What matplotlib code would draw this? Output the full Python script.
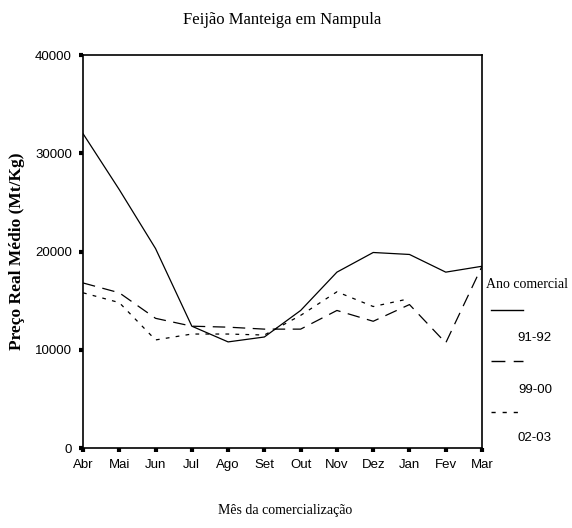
import matplotlib.pyplot as plt
from matplotlib.lines import Line2D
import numpy as np

months = ['Abr', 'Mai', 'Jun', 'Jul', 'Ago', 'Set', 'Out', 'Nov', 'Dez', 'Jan', 'Fev', 'Mar']
s9192 = [32000, 26300, 20300, 12400, 10800, 11300, 14000, 17900, 19900, 19700, 17900, 18500]
s9900 = [16800, 15800, 13200, 12400, 12300, 12100, 12100, 14000, 12900, 14600, 10700, 18500]
s0203 = [15800, 14800, 11000, 11600, 11600, 11500, 13500, 15900, 14400, 15200]
series_names = ['91-92', '99-00', '02-03']
y_ticks = [0, 10000, 20000, 30000, 40000]

SERIF = 'Liberation Serif'
SANS = 'Liberation Sans'

fig = plt.figure(figsize=(5.72, 5.28), dpi=100)
ax = fig.add_axes([0.1451, 0.1515, 0.6976, 0.7443])

x = np.arange(len(months))
styles = ['-', (0, (10, 6)), (0, (3, 5))]
all_series = [s9192, s9900, s0203]
for vals, ls in zip(all_series, styles):
    ax.plot(x[:len(vals)], vals, color='black', lw=0.9, linestyle=ls)

ax.set_xlim(0, 11)
ax.set_ylim(0, 40000)
ax.set_xticks(x)
ax.set_xticklabels(months, fontfamily=SANS, fontsize=9.5)
ax.set_yticks(y_ticks)
ax.set_yticklabels([str(v) for v in y_ticks], fontfamily=SANS, fontsize=9.5)
ax.tick_params(direction='out', length=3, width=3)
ax.tick_params(axis='x', pad=5)
ax.tick_params(axis='y', pad=5)
for sp in ax.spines.values():
    sp.set_linewidth(1.2)

fig.text(0.493, 0.962, 'Feijão Manteiga em Nampula', ha='center', va='center',
         fontfamily=SERIF, fontsize=12)
fig.text(0.498, 0.034, 'Mês da comercialização', ha='center', va='center',
         fontfamily=SERIF, fontsize=10)
fig.text(0.03, 1 - 251 / 528, 'Preço Real Médio (Mt/Kg)', rotation=90, ha='center', va='center',
         fontfamily=SERIF, fontsize=12.5, fontweight='bold')

# legend drawn by hand, SPSS style
W, H = 572, 528
fig.text(486 / W, 1 - 284 / H, 'Ano comercial', ha='left', va='center',
         fontfamily=SERIF, fontsize=10)
leg_line_y = [310, 361, 412]
leg_text_y = [338, 390, 438]
for name, ls, ly, ty in zip(series_names, styles, leg_line_y, leg_text_y):
    fig.add_artist(Line2D([491 / W, 523 / W], [1 - ly / H, 1 - ly / H],
                          transform=fig.transFigure, color='black', lw=1.0, linestyle=ls))
    fig.text(552 / W, 1 - ty / H, name, ha='right', va='center',
             fontfamily=SANS, fontsize=9.5)

fig.savefig('out.png', dpi=100)
